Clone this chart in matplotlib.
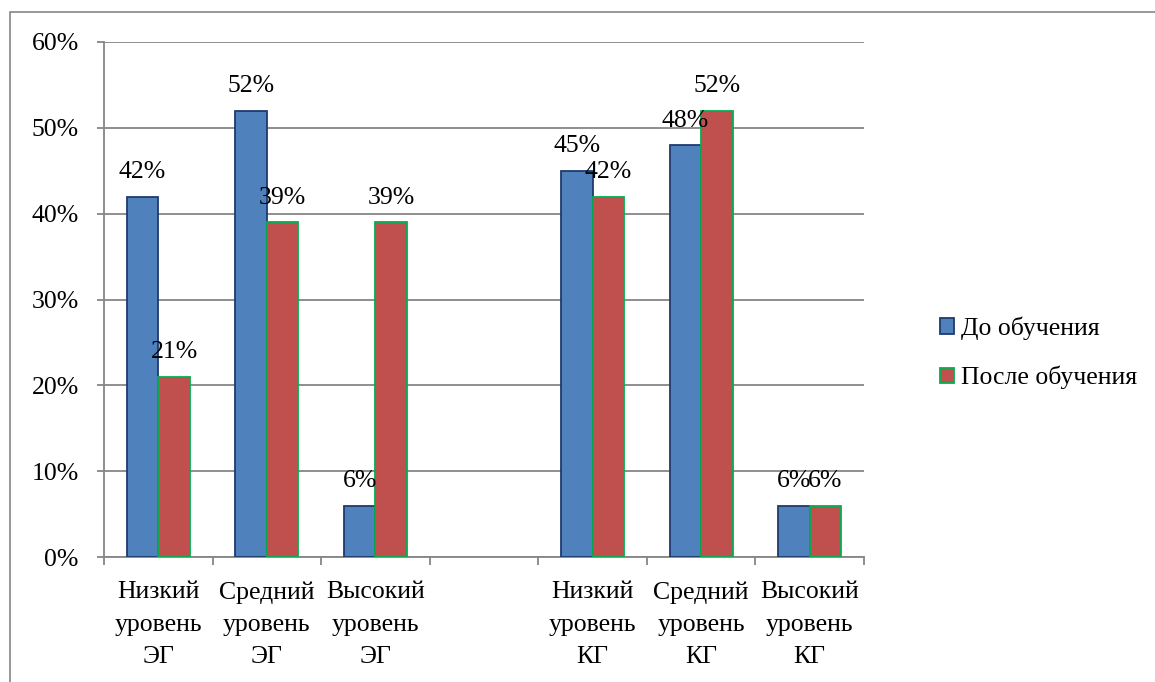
import matplotlib.pyplot as plt
import numpy as np
from matplotlib.patches import Rectangle
from matplotlib.ticker import FixedLocator

plt.rcParams["font.family"] = ["Liberation Serif", "DejaVu Serif"]

categories = [
    "Низкий\nуровень\nЭГ",
    "Средний\nуровень\nЭГ",
    "Высокий\nуровень\nЭГ",
    "",
    "Низкий\nуровень\nКГ",
    "Средний\nуровень\nКГ",
    "Высокий\nуровень\nКГ",
]
before = [0.42, 0.52, 0.06, np.nan, 0.45, 0.48, 0.06]
after = [0.21, 0.39, 0.39, np.nan, 0.42, 0.52, 0.06]
series_names = ["До обучения", "После обучения"]
y_ticks = [0.0, 0.1, 0.2, 0.3, 0.4, 0.5, 0.6]

BLUE = "#4F81BD"
BLUE_EDGE = "#1F3A6E"
RED = "#C0504D"
RED_EDGE = "#00B050"
GRID = "#868686"
FS = 18.5

fig = plt.figure(figsize=(11.55, 6.82), dpi=100)
ax = fig.add_axes([104 / 1155, 1 - 557 / 682, (864 - 104) / 1155, (557 - 42) / 682])

# outer chart frame
fig.patches.append(Rectangle((10 / 1155, -0.5), 1.5, 1.5 - 12 / 682,
                             transform=fig.transFigure, fill=False,
                             edgecolor=GRID, linewidth=1.2))

x = np.arange(len(categories))
w = 0.29
b1 = ax.bar(x - w / 2, before, w, color=BLUE, edgecolor=BLUE_EDGE, linewidth=1.3,
            label=series_names[0], zorder=3)
b2 = ax.bar(x + w / 2, after, w, color=RED, edgecolor=RED_EDGE, linewidth=1.3,
            label=series_names[1], zorder=3)

for bars, vals in ((b1, before), (b2, after)):
    for rect, v in zip(bars, vals):
        if np.isnan(v):
            continue
        ax.annotate(f"{int(round(v * 100))}%",
                    (rect.get_x() + rect.get_width() / 2, v),
                    xytext=(0, 17.5), textcoords="offset points",
                    ha="center", va="center", fontsize=FS, zorder=4)

ax.set_xlim(-0.5, len(categories) - 0.5)
ax.set_ylim(0, 0.6)
ax.set_yticks(y_ticks)
ax.set_yticklabels([f"{int(round(t * 100))}%" for t in y_ticks], fontsize=FS)
ax.yaxis.grid(True, color=GRID, linewidth=1.3, zorder=0)
ax.set_axisbelow(True)

# ticks at category borders, labels at centres
ax.xaxis.set_major_locator(FixedLocator(np.arange(-0.5, len(categories), 1.0)))
ax.xaxis.set_major_formatter(plt.NullFormatter())
ax.xaxis.set_minor_locator(FixedLocator(x))
ax.set_xticklabels(categories, minor=True, fontsize=FS, linespacing=1.6)
ax.tick_params(axis="x", which="major", length=5.5, width=1.3, color=GRID, direction="out")
ax.tick_params(axis="x", which="minor", length=0, pad=17.5)
ax.tick_params(axis="y", length=5.2, width=1.3, color=GRID, pad=13)

for s in ("top", "right"):
    ax.spines[s].set_visible(False)
for s in ("left", "bottom"):
    ax.spines[s].set_color(GRID)
    ax.spines[s].set_linewidth(1.3)

leg = fig.legend(loc="center left", bbox_to_anchor=(930 / 1155, 1 - 353 / 682),
                 frameon=False, fontsize=FS, handlelength=0.55, handleheight=0.55,
                 handletextpad=0.25, labelspacing=1.0, borderaxespad=0)

fig.savefig("out.png", dpi=100)
